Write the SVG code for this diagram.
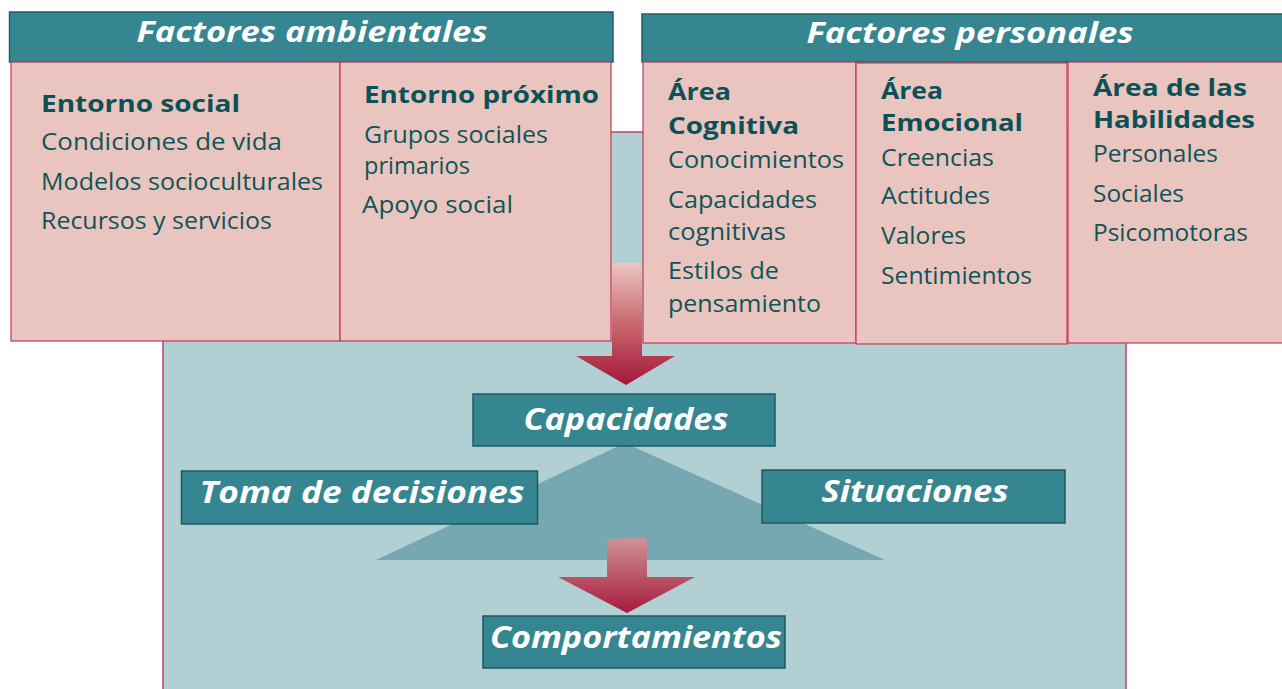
<svg xmlns="http://www.w3.org/2000/svg" width="1282" height="689" viewBox="0 0 1282 689">
<defs>
<linearGradient id="g1" x1="0" y1="0" x2="0" y2="1">
<stop offset="0" stop-color="#ECC6C2"/>
<stop offset="0.5" stop-color="#C8686E"/>
<stop offset="1" stop-color="#A5173A"/>
</linearGradient>
<linearGradient id="g2" x1="0" y1="0" x2="0" y2="1">
<stop offset="0" stop-color="#D09496"/>
<stop offset="1" stop-color="#A51A3C"/>
</linearGradient>
<style>
.hdr{fill:#358690;stroke:#1E6068;stroke-width:1.5}
.body{fill:#EAC4BF;stroke:#C23A5C;stroke-width:1.2}
.box{fill:#358690;stroke:#1B5A62;stroke-width:1.5}
.ht{font-family:"Open Sans","DejaVu Sans",sans-serif;font-weight:bold;font-style:italic;font-size:28px;fill:#FFFFFF}
.bt{font-family:"Open Sans","DejaVu Sans",sans-serif;font-weight:bold;font-style:italic;font-size:30px;fill:#FFFFFF}
.h{font-family:"Open Sans","DejaVu Sans",sans-serif;font-weight:bold;font-size:24px;fill:#0B5257}
.t{font-family:"Open Sans","DejaVu Sans",sans-serif;font-size:24px;fill:#0E5559}
</style>
</defs>
<rect width="1282" height="689" fill="#FFFFFF"/>

<g id="fondo">
<rect x="163" y="132" width="963" height="570" fill="#B2CFD4" stroke="#C2436A" stroke-width="1.5"/>
</g>

<g id="factores-ambientales">
<rect class="hdr" x="9.5" y="12" width="603.5" height="50"/>
<text class="ht" x="312" y="42" text-anchor="middle" textLength="351" lengthAdjust="spacingAndGlyphs">Factores ambientales</text>
<rect class="body" x="11" y="62" width="329" height="279"/>
<rect class="body" x="340" y="62" width="271" height="279"/>
<text class="h" x="41" y="112" textLength="199" lengthAdjust="spacingAndGlyphs">Entorno social</text>
<text class="t" x="41" y="150" textLength="241" lengthAdjust="spacingAndGlyphs">Condiciones de vida</text>
<text class="t" x="41" y="190" textLength="282" lengthAdjust="spacingAndGlyphs">Modelos socioculturales</text>
<text class="t" x="41" y="229" textLength="231" lengthAdjust="spacingAndGlyphs">Recursos y servicios</text>
<text class="h" x="364" y="103" textLength="235" lengthAdjust="spacingAndGlyphs">Entorno próximo</text>
<text class="t" x="364" y="143" textLength="184" lengthAdjust="spacingAndGlyphs">Grupos sociales</text>
<text class="t" x="364" y="174" textLength="106" lengthAdjust="spacingAndGlyphs">primarios</text>
<text class="t" x="362" y="213" textLength="151" lengthAdjust="spacingAndGlyphs">Apoyo social</text>
</g>

<g id="factores-personales">
<rect class="hdr" x="642" y="14" width="641" height="48"/>
<text class="ht" x="970" y="43" text-anchor="middle" textLength="327" lengthAdjust="spacingAndGlyphs">Factores personales</text>
<rect class="body" x="643" y="62" width="213" height="281"/>
<rect class="body" x="856" y="63" width="211" height="281"/>
<rect class="body" x="1068" y="62" width="215" height="281"/>
<text class="h" x="668" y="100" textLength="63" lengthAdjust="spacingAndGlyphs">Área</text>
<text class="h" x="668" y="134" textLength="131" lengthAdjust="spacingAndGlyphs">Cognitiva</text>
<text class="t" x="668" y="168" textLength="176" lengthAdjust="spacingAndGlyphs">Conocimientos</text>
<text class="t" x="668" y="208" textLength="149" lengthAdjust="spacingAndGlyphs">Capacidades</text>
<text class="t" x="668" y="240" textLength="118" lengthAdjust="spacingAndGlyphs">cognitivas</text>
<text class="t" x="668" y="279" textLength="111" lengthAdjust="spacingAndGlyphs">Estilos de</text>
<text class="t" x="668" y="312" textLength="153" lengthAdjust="spacingAndGlyphs">pensamiento</text>
<text class="h" x="881" y="99" textLength="62" lengthAdjust="spacingAndGlyphs">Área</text>
<text class="h" x="881" y="131" textLength="142" lengthAdjust="spacingAndGlyphs">Emocional</text>
<text class="t" x="881" y="166" textLength="113" lengthAdjust="spacingAndGlyphs">Creencias</text>
<text class="t" x="881" y="204" textLength="109" lengthAdjust="spacingAndGlyphs">Actitudes</text>
<text class="t" x="881" y="244" textLength="85" lengthAdjust="spacingAndGlyphs">Valores</text>
<text class="t" x="881" y="284" textLength="151" lengthAdjust="spacingAndGlyphs">Sentimientos</text>
<text class="h" x="1093" y="96" textLength="154" lengthAdjust="spacingAndGlyphs">Área de las</text>
<text class="h" x="1093" y="128" textLength="162" lengthAdjust="spacingAndGlyphs">Habilidades</text>
<text class="t" x="1093" y="162" textLength="125" lengthAdjust="spacingAndGlyphs">Personales</text>
<text class="t" x="1093" y="202" textLength="91" lengthAdjust="spacingAndGlyphs">Sociales</text>
<text class="t" x="1093" y="241" textLength="155" lengthAdjust="spacingAndGlyphs">Psicomotoras</text>
</g>

<g id="triangulo">
<polygon points="625,443 376,560 885,560" fill="#75A8B1"/>
</g>

<g id="conectores">
<path d="M612,263 L642,263 L642,356 L675,356 L626,385 L576,356 L612,356 Z" fill="url(#g1)"/>
<path d="M607,539 L647,538 L647,577 L695,577 L627,613 L558,577 L607,577 Z" fill="url(#g2)"/>
</g>

<g id="capacidades">
<rect class="box" x="473" y="394" width="302" height="52"/>
<text class="bt" x="626" y="430" text-anchor="middle" textLength="205" lengthAdjust="spacingAndGlyphs">Capacidades</text>
</g>
<g id="toma-de-decisiones">
<rect class="box" x="181.5" y="471" width="356" height="53"/>
<text class="bt" x="362" y="503" text-anchor="middle" textLength="325" lengthAdjust="spacingAndGlyphs">Toma de decisiones</text>
</g>
<g id="situaciones">
<rect class="box" x="762" y="470" width="303" height="53"/>
<text class="bt" x="915" y="502" text-anchor="middle" textLength="187" lengthAdjust="spacingAndGlyphs">Situaciones</text>
</g>
<g id="comportamientos">
<rect class="box" x="483" y="616" width="302" height="52"/>
<text class="bt" x="636" y="648" text-anchor="middle" textLength="292" lengthAdjust="spacingAndGlyphs">Comportamientos</text>
</g>
</svg>
